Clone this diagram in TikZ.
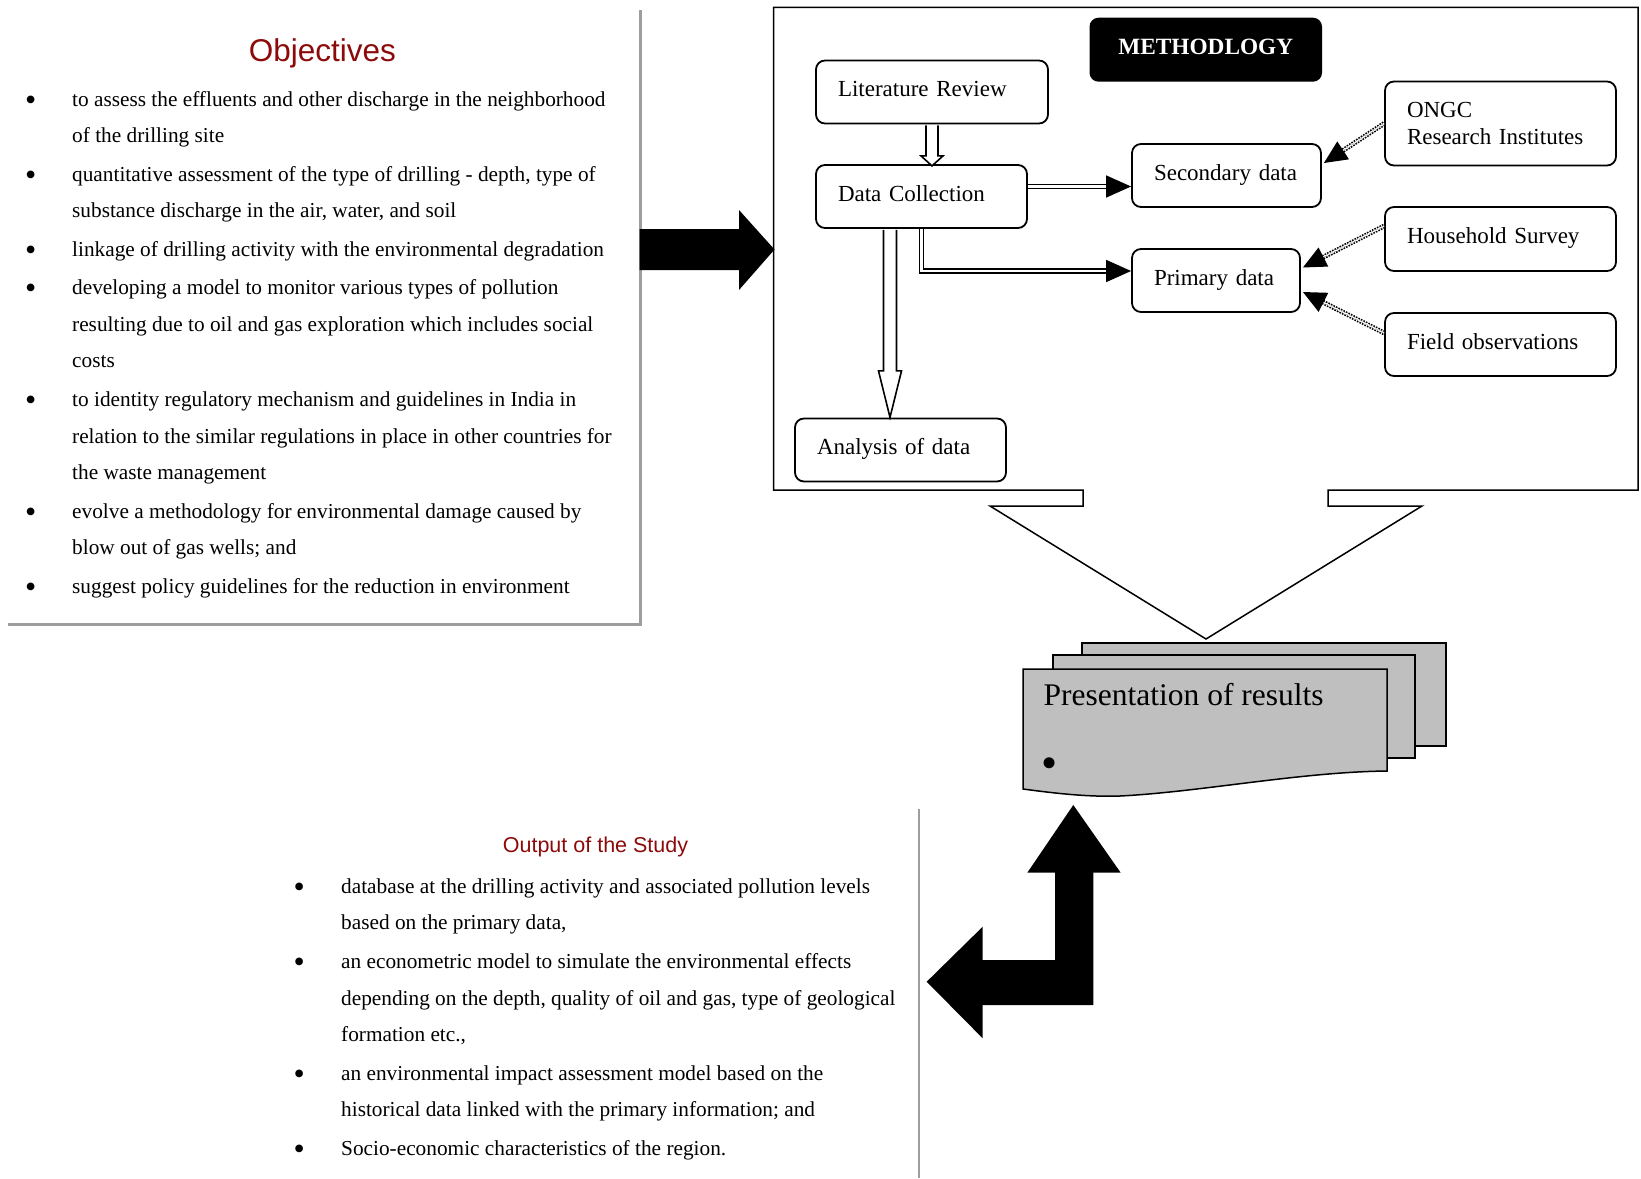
\documentclass[tikz,border=0pt]{standalone}
\usepackage{fontspec}
\setmainfont{Liberation Serif}
\newfontfamily\headfont{Liberation Sans}
\usetikzlibrary{arrows.meta, calc}
\definecolor{red1}{rgb}{0.55,0.04,0.04}
\definecolor{gray1}{rgb}{0.62,0.62,0.62}
\definecolor{gray2}{rgb}{0.75,0.75,0.75}
\newcommand{\dotbul}{{\fontsize{32}{36}\selectfont\raisebox{-4pt}{\textbullet}}}

\begin{document}
\begin{tikzpicture}[x=1pt, y=1pt, line join=miter]
  \tikzstyle{box}=[draw, rounded corners=9pt, line width=1.8pt, inner xsep=22pt, inner ysep=0pt, align=left, text height=16pt, text depth=7pt, font=\fontsize{23}{27}\selectfont]
  \tikzstyle{itemlist}=[anchor=base west, inner sep=0pt, font=\fontsize{21.3}{36.6}\selectfont]
  \tikzstyle{objtitle}=[anchor=base, inner sep=0pt, text=red1]
  \tikzstyle{hollowarrow}=[draw, line width=1.6pt, fill=white]
  \tikzstyle{dblarrow}=[double, double distance=2.6pt, line width=1.5pt, -{Triangle[length=25pt, width=22pt]}]
  \tikzstyle{dotarrow}=[double, double distance=1.6pt, line width=1.6pt, dash pattern=on 1.6pt off 1.2pt, -{Triangle[length=23pt, width=21pt]}]
  \tikzstyle{grayrule}=[draw=gray1, line width=2.7pt]
  \useasboundingbox (0,0) rectangle (1641,-1178);

  \draw[grayrule] (640.5,-10) -- (640.5,-624.5) -- (8,-624.5);
  \node[objtitle, font=\headfont\fontsize{31.5}{36}\selectfont] (objt) at (322.4,-61) {Objectives};
  \node[itemlist] (objl) at (25,-106) {\begin{tabular}[t]{@{}p{47pt}@{}l@{}}
    \dotbul & to assess the effluents and other discharge in the neighborhood\\
    & of the drilling site\\[1.9pt]
    \dotbul & quantitative assessment of the type of drilling - depth, type of\\
    & substance discharge in the air, water, and soil\\[1.9pt]
    \dotbul & linkage of drilling activity with the environmental degradation\\[1.9pt]
    \dotbul & developing a model to monitor various types of pollution\\
    & resulting due to oil and gas exploration which includes social\\
    & costs\\[1.9pt]
    \dotbul & to identity regulatory mechanism and guidelines in India in\\
    & relation to the similar regulations in place in other countries for\\
    & the waste management\\[1.9pt]
    \dotbul & evolve a methodology for environmental damage caused by\\
    & blow out of gas wells; and\\[1.9pt]
    \dotbul & suggest policy guidelines for the reduction in environment
  \end{tabular}};

  \fill (639.5,-229) -- (739,-229) -- (739,-210) -- (774.5,-249.5) -- (739,-290) -- (739,-270) -- (639.5,-270) -- cycle;

  \draw[line width=1.5pt] (1083,-490) -- (773.5,-490) -- (773.5,-7.3) -- (1638,-7.3) -- (1638,-490) -- (1328,-490) -- (1328,-506) -- (1422,-506) -- (1206,-639) -- (990,-506) -- (1083,-506) -- cycle;
  \node[fill=black, rounded corners=9pt, minimum width=232.5pt, minimum height=64pt, text height=17pt, text depth=7.6pt, text=white, font=\bfseries\fontsize{23.3}{27}\selectfont] (meth) at (1205.75,-49.7) {METHODLOGY};

  \node[box, text width=188pt, minimum height=63pt] (lit) at (932,-92) {Literature Review};
  \node[box, text width=167pt, minimum height=63pt] (dc) at (921.5,-196.5) {Data Collection};
  \node[box, text width=145pt, minimum height=63pt] (sec) at (1226.5,-175.5) {Secondary data};
  \node[box, text width=124pt, minimum height=63pt] (pd) at (1216,-280.5) {Primary data};
  \node[box, text width=167pt, minimum height=63pt] (ana) at (900.5,-450) {Analysis of data};
  \node[box, text width=187pt, minimum height=84pt, text height=, text depth=] (ongc) at (1500.5,-123.5) {ONGC\\Research Institutes};
  \node[box, text width=187pt, minimum height=64pt] (hh) at (1500.5,-239) {Household Survey};
  \node[box, text width=187pt, minimum height=63pt] (fo) at (1500.5,-344.5) {Field observations};

  \draw[hollowarrow] (lit.south) ++(-6,-0.9) -- ++(0,-30.6) -- ++(-5,0) -- ++(11,-10) -- ++(11,10) -- ++(-5,0) -- ++(0,30.6);
  \draw[hollowarrow] ($(dc.south)+(-38,-0.9)$) -- ++(0,-141.1) -- ++(-5,0) -- ++(11.5,-46.5) -- ++(11.5,46.5) -- ++(-5,0) -- ++(0,141.1);
  \coordinate (dcs) at ($(dc.east)+(0,10)$);
  \draw[dblarrow] (dcs) -- (dcs -| sec.west);
  \draw[dblarrow] (dc.south) |- ($(pd.west)+(0,9.5)$);
  \draw[dotarrow] (ongc.west) -- ($(sec.east)+(2,12.5)$);
  \draw[dotarrow] ($(hh.west)+(0,13)$) -- ($(pd.east)+(2,13)$);
  \draw[dotarrow] ($(fo.west)+(0,11.5)$) -- ($(pd.east)+(2,-11.5)$);

  \draw[fill=gray2, line width=1.5pt] (1082,-643) rectangle (1446,-746);
  \draw[fill=gray2, line width=1.5pt] (1053,-655) rectangle (1415,-758);
  \draw[fill=gray2, line width=1.5pt] (1023,-669) -- (1387,-669) -- (1387,-771) .. controls (1300,-772) and (1200,-792) .. (1120,-796) .. controls (1090,-797) and (1060,-794) .. (1023,-789) -- cycle;
  \node[anchor=base west, inner sep=0pt, font=\fontsize{31.5}{36}\selectfont] (pres) at (1043.5,-705.7) {Presentation of results};
  \node[inner sep=0pt, font=\fontsize{46}{50}\selectfont] (presdot) at (1049.3,-768.5) {\textbullet};

  \fill (1073.3,-805) -- (1120.7,-872.7) -- (1093.3,-872.7) -- (1093.3,-1005) -- (982.7,-1005) -- (982.7,-1038.3) -- (926.7,-981.7) -- (982.7,-926.7) -- (982.7,-960) -- (1055,-960) -- (1055,-872.7) -- (1027.3,-872.7) -- cycle;

  \draw[grayrule] (919,-809) -- (919,-1178);
  \node[objtitle, font=\headfont\fontsize{21.5}{26}\selectfont] (outt) at (595.5,-852.3) {Output of the Study};
  \node[itemlist] (outl) at (293.5,-893.3) {\begin{tabular}[t]{@{}p{47.5pt}@{}l@{}}
    \dotbul & database at the drilling activity and associated pollution levels\\
    & based on the primary data,\\[1.9pt]
    \dotbul & an econometric model to simulate the environmental effects\\
    & depending on the depth, quality of oil and gas, type of geological\\
    & formation etc.,\\[1.9pt]
    \dotbul & an environmental impact assessment model based on the\\
    & historical data linked with the primary information; and\\[1.9pt]
    \dotbul & Socio-economic characteristics of the region.
  \end{tabular}};
\end{tikzpicture}
\end{document}
